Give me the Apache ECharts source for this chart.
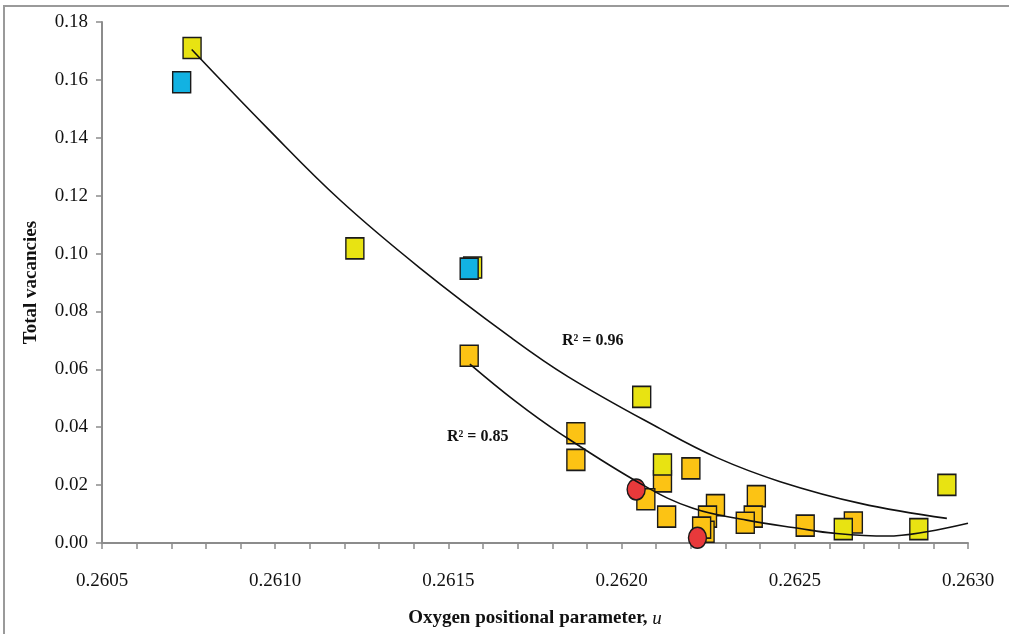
<!DOCTYPE html>
<html>
<head>
<meta charset="utf-8">
<script src="https://cdn.jsdelivr.net/npm/echarts@6/dist/echarts.min.js"></script>
<style>
  html, body { margin: 0; padding: 0; background: #fff; overflow: hidden; }
  #chart { width: 1009px; height: 634px; }
</style>
</head>
<body>
<div id="chart"></div>
<script>
// [u, total vacancies]
const orangePoints = [
  [0.261560, 0.0647], [0.261868, 0.0379], [0.261868, 0.0287], [0.262118, 0.0213],
  [0.262200, 0.0258], [0.262070, 0.0151], [0.262130, 0.0091], [0.262271, 0.0131],
  [0.262248, 0.0091], [0.262241, 0.0039], [0.262231, 0.0053], [0.262389, 0.0162],
  [0.262380, 0.0091], [0.262357, 0.0070], [0.262530, 0.0060], [0.262669, 0.0071]
]
const yellowPoints = [
  [0.260760, 0.1710], [0.261230, 0.1018], [0.261570, 0.0952], [0.262058, 0.0505],
  [0.262118, 0.0271], [0.262640, 0.0048], [0.262858, 0.0048], [0.262939, 0.0201]
]
const bluePoints = [[0.260730, 0.1592], [0.261560, 0.0948]]
const redPoints = [[0.262042, 0.0185], [0.262219, 0.0018]]

// trend lines
const upperTrend = [
  [0.260759, 0.1705], [0.260980, 0.1430], [0.261187, 0.1185], [0.261418, 0.0950],
  [0.261678, 0.0712], [0.261845, 0.0575], [0.262111, 0.0395], [0.262275, 0.0295],
  [0.262458, 0.0212], [0.262689, 0.0137], [0.262939, 0.0085]
]
const lowerTrend = [
  [0.261562, 0.0618], [0.261692, 0.0491], [0.261822, 0.0379], [0.262062, 0.0200],
  [0.262206, 0.0120], [0.262361, 0.0079], [0.262515, 0.0050], [0.262611, 0.0034],
  [0.262766, 0.0024], [0.262881, 0.0039], [0.263000, 0.0068]
]
const fitLabels = ['R\u00b2 = 0.96', 'R\u00b2 = 0.85']

const font = '"Liberation Serif", "DejaVu Serif", serif'
const markerBorder = { borderColor: '#1a1a1a', borderWidth: 1.5 }

function scatter(name, data, color, symbol, size, z) {
  return {
    name,
    type: 'scatter',
    data,
    symbol,
    symbolSize: size,
    z,
    itemStyle: Object.assign({ color, opacity: 1 }, markerBorder)
  }
}

function trend(data) {
  return {
    type: 'line',
    data,
    smooth: 0.4,
    showSymbol: false,
    symbol: 'none',
    z: 10,
    lineStyle: { color: '#111', width: 1.6 }
  }
}

const chart = echarts.init(document.getElementById('chart'))
chart.setOption({
  animation: false,
  backgroundColor: '#fff',
  grid: { left: 102, width: 866, top: 22, height: 521 },
  xAxis: {
    type: 'value',
    min: 0.2605,
    max: 0.2630,
    interval: 0.0005,
    name: '{b|Oxygen positional parameter, }{i|u}',
    nameLocation: 'middle',
    nameGap: 66,
    nameTextStyle: {
      rich: {
        b: { fontFamily: font, fontSize: 19, fontWeight: 'bold', color: '#111' },
        i: { fontFamily: font, fontSize: 19, fontStyle: 'italic', color: '#111' }
      }
    },
    axisLine: { lineStyle: { color: '#8c8c8c', width: 2 } },
    axisTick: { show: true, length: 6, lineStyle: { color: '#8c8c8c', width: 1.5 } },
    minorTick: { show: true, splitNumber: 5, length: 6, lineStyle: { color: '#8c8c8c', width: 1.5 } },
    splitLine: { show: false },
    axisLabel: {
      margin: 29,
      fontFamily: font,
      fontSize: 19,
      color: '#111',
      formatter: v => v.toFixed(4)
    }
  },
  yAxis: {
    type: 'value',
    min: 0,
    max: 0.18,
    interval: 0.02,
    name: 'Total vacancies',
    nameLocation: 'middle',
    nameGap: 61,
    nameRotate: 90,
    nameTextStyle: { fontFamily: font, fontSize: 19, fontWeight: 'bold', color: '#111' },
    axisLine: { show: true, lineStyle: { color: '#8c8c8c', width: 2 } },
    axisTick: { show: true, length: 6, lineStyle: { color: '#8c8c8c', width: 1.5 } },
    splitLine: { show: false },
    axisLabel: {
      margin: 14,
      fontFamily: font,
      fontSize: 19,
      color: '#111',
      formatter: v => v.toFixed(2)
    }
  },
  series: [
    scatter('orange', orangePoints, '#fcc314', 'rect', [18, 21], 3),
    scatter('yellow', yellowPoints, '#e8e312', 'rect', [18, 21], 4),
    scatter('blue', bluePoints, '#12b2e2', 'rect', [18, 21], 5),
    scatter('red', redPoints, '#e8393b', 'circle', [18, 21], 6),
    trend(upperTrend),
    trend(lowerTrend)
  ],
  graphic: [
    {
      type: 'rect',
      shape: { x: 4, y: 6, width: 1100, height: 700 },
      style: { fill: 'none', stroke: '#9a9a9a', lineWidth: 2 },
      silent: true
    },
    {
      type: 'text',
      left: 562, top: 333,
      style: { text: fitLabels[0], font: 'bold 16px ' + font, fill: '#111' }
    },
    {
      type: 'text',
      left: 447, top: 429,
      style: { text: fitLabels[1], font: 'bold 16px ' + font, fill: '#111' }
    }
  ]
})
</script>
</body>
</html>
